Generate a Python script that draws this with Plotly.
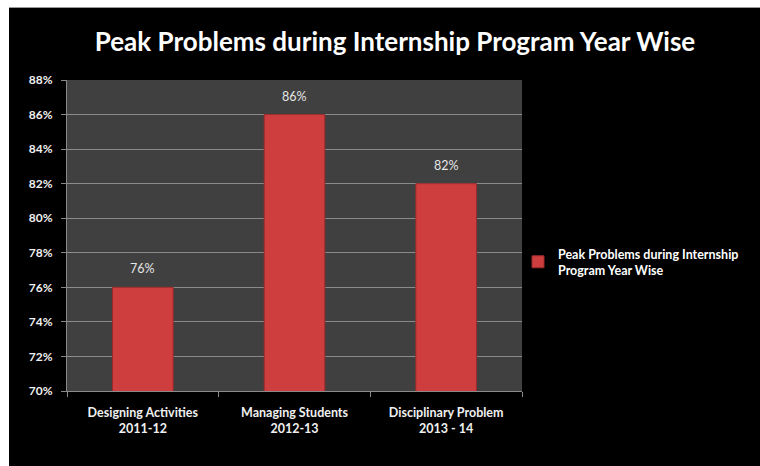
import plotly.graph_objects as go

categories = ["Designing Activities<br>2011-12", "Managing Students<br>2012-13", "Disciplinary Problem<br>2013 - 14"]
values = [0.76, 0.86, 0.82]
series_name = "Peak Problems during Internship<br>Program Year Wise"
title_text = "Peak Problems during Internship Program Year Wise"

W, H = 760, 466
L, R, T, B = 67, 760 - 522, 80, 466 - 391
pw, ph = W - L - R, H - T - B

font_fam = "Lato, Open Sans, sans-serif"

fig = go.Figure()
fig.add_trace(go.Bar(
    x=categories, y=values, name=series_name,
    marker=dict(color="#cf3e3e", line=dict(color="#9a2a2a", width=1)),
    width=0.4,
    showlegend=True,
))

for c, v in zip(categories, values):
    fig.add_annotation(x=c, y=v, text=f"{v*100:.0f}%", showarrow=False,
                       yanchor="bottom", yshift=9,
                       font=dict(color="#e6e6e6", size=12.5, family=font_fam))


def px_x(p):
    return (p - L) / pw


def px_y(p):
    return (H - B - p) / ph


fig.update_layout(
    width=W, height=H,
    margin=dict(l=L, r=R, t=T, b=B),
    paper_bgcolor="black",
    plot_bgcolor="#404040",
    title=dict(text="<b>" + title_text + "</b>", x=395 / W, xanchor="center",
               y=1 - 42 / H, yanchor="middle",
               font=dict(color="white", size=26, family=font_fam)),
    font=dict(family=font_fam, color="white"),
    legend=dict(x=1.0 - 4 / pw, xanchor="left", y=px_y(239), yanchor="top",
                font=dict(color="white", size=12.5, family=font_fam, weight="bold"),
                itemwidth=30, bgcolor="rgba(0,0,0,0)"),
    yaxis=dict(range=[0.70, 0.88], dtick=0.02, tickformat=".0%",
               showgrid=True, gridcolor="#8a8a8a", gridwidth=1,
               showline=True, linecolor="#8a8a8a", linewidth=1,
               ticks="outside", ticklen=5, tickcolor="#8a8a8a",
               ticklabelstandoff=6,
               tickfont=dict(color="#f0f0f0", size=12, family=font_fam, weight="bold"),
               zeroline=False),
    xaxis=dict(showline=True, linecolor="#8a8a8a", linewidth=1,
               ticks="outside", ticklen=5, tickcolor="#8a8a8a",
               tickson="boundaries", ticklabelstandoff=10,
               tickfont=dict(color="#f0f0f0", size=12.5, family=font_fam, weight="bold")),
    shapes=[
        dict(type="rect", xref="paper", yref="paper", layer="above",
             x0=px_x(-5), x1=px_x(W + 5), y0=px_y(7), y1=px_y(-5),
             fillcolor="white", line=dict(width=0)),
        dict(type="rect", xref="paper", yref="paper", layer="above",
             x0=px_x(-5), x1=px_x(9), y0=px_y(H + 5), y1=px_y(-5),
             fillcolor="white", line=dict(width=0)),
        dict(type="line", xref="paper", yref="paper", layer="above",
             x0=px_x(9), x1=px_x(W + 5), y0=px_y(7.5), y1=px_y(7.5),
             line=dict(color="#9a9a9a", width=1)),
    ],
)

fig.write_html(
    "out.html",
    config={"displayModeBar": False},
    post_script="document.body.style.margin='0';document.body.style.overflow='hidden';document.documentElement.style.overflow='hidden';",
)
